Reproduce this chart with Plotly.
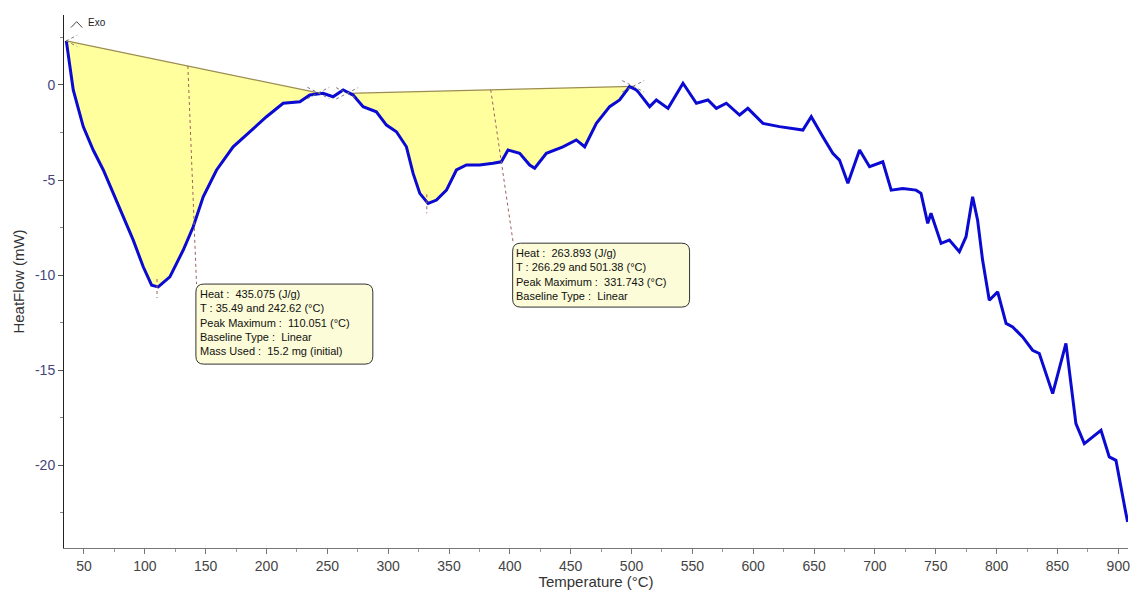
import plotly.graph_objects as go

# DSC heat-flow trace (temperature in °C, heat flow in mW)
temperature = [
    35.49, 41.2, 49.4, 57.6, 65.9, 74.1, 82.3, 90.5, 98.7, 105.6, 111.0, 120.6,
    131.6, 139.8, 148.0, 159.0, 172.6, 186.3, 200.0, 213.7, 227.4, 235.6, 246.5,
    254.7, 263.0, 271.2, 279.4, 290.3, 298.6, 306.8, 315.0, 320.5, 326.0, 332.8,
    339.7, 347.9, 356.1, 364.3, 375.2, 386.2, 393.0, 398.5, 408.1, 416.3, 420.4,
    430.0, 443.6, 454.6, 461.5, 471.1, 482.0, 490.2, 498.4, 503.9, 505.3, 514.9,
    520.4, 530.0, 542.3, 553.3, 562.8, 569.7, 577.9, 588.8, 595.6, 608.0, 621.6,
    640.8, 647.7, 657.2, 665.4, 670.9, 677.8, 687.4, 695.6, 706.5, 713.4, 722.9,
    733.8, 737.9, 743.4, 746.1, 754.4, 761.2, 769.4, 774.9, 780.3, 784.4, 788.5,
    794.0, 800.9, 807.8, 813.2, 821.4, 829.6, 835.1, 846.1, 857.0, 865.2, 872.1,
    878.9, 885.8, 892.6, 898.1, 906.3, 907.7,
]
heat_flow = [
    2.32, -0.26, -2.19, -3.42, -4.47, -5.70, -6.93, -8.16, -9.56, -10.53, -10.62,
    -10.09, -8.68, -7.46, -5.88, -4.47, -3.25, -2.46, -1.67, -0.96, -0.88, -0.53,
    -0.44, -0.62, -0.26, -0.53, -1.14, -1.41, -2.11, -2.46, -3.25, -4.65, -5.70,
    -6.23, -6.05, -5.53, -4.47, -4.21, -4.21, -4.12, -4.04, -3.42, -3.59, -4.21,
    -4.38, -3.59, -3.25, -2.89, -3.25, -2.02, -1.14, -0.79, -0.09, -0.26, -0.35,
    -1.14, -0.79, -1.23, 0.09, -0.96, -0.79, -1.23, -0.96, -1.58, -1.23, -2.02,
    -2.19, -2.37, -1.67, -2.72, -3.59, -3.95, -5.17, -3.42, -4.30, -4.04, -5.53,
    -5.44, -5.53, -5.70, -7.28, -6.75, -8.33, -8.16, -8.77, -7.98, -5.88, -7.11,
    -9.21, -11.32, -10.88, -12.54, -12.72, -13.25, -13.95, -14.12, -16.23, -13.59,
    -17.81, -18.86, -18.51, -18.16, -19.56, -19.74, -22.54, -22.98,
]

# Integrated peaks: linear baseline limits (T, heat flow) and peak maxima
peak1_limits = [(35.49, 2.32), (242.62, -0.42)]
peak2_limits = [(266.29, -0.44), (501.38, -0.07)]
peak1_max = 110.051
peak2_max = 331.743

peak1_text = [
    "Heat :  435.075 (J/g)",
    "T : 35.49 and 242.62 (°C)",
    "Peak Maximum :  110.051 (°C)",
    "Baseline Type :  Linear",
    "Mass Used :  15.2 mg (initial)",
]
peak2_text = [
    "Heat :  263.893 (J/g)",
    "T : 266.29 and 501.38 (°C)",
    "Peak Maximum :  331.743 (°C)",
    "Baseline Type :  Linear",
]

x_ticks = list(range(50, 901, 50))
y_ticks = [0, -5, -10, -15, -20]

FONT = "Liberation Sans, Arial, sans-serif"
CURVE = "#0a0ad2"
FILL = "#ffff9e"
BASE = "#9c8c52"
DOT = "#a06060"

fig = go.Figure()


def peak_polygon(limits):
    (t0, v0), (t1, v1) = limits
    inner = [(t, v) for t, v in zip(temperature, heat_flow) if t0 < t < t1]
    xs = [t0, t1] + [p[0] for p in reversed(inner)] + [t0]
    ys = [v0, v1] + [p[1] for p in reversed(inner)] + [v0]
    return xs, ys


for limits in (peak1_limits, peak2_limits):
    px_, py_ = peak_polygon(limits)
    fig.add_trace(go.Scatter(x=px_, y=py_, mode="lines", fill="toself",
                             fillcolor=FILL, line=dict(width=0),
                             hoverinfo="skip", showlegend=False))
    fig.add_trace(go.Scatter(x=[limits[0][0], limits[1][0]],
                             y=[limits[0][1], limits[1][1]], mode="lines",
                             line=dict(color=BASE, width=1.2),
                             hoverinfo="skip", showlegend=False))

fig.add_trace(go.Scatter(x=temperature, y=heat_flow, mode="lines",
                         line=dict(color=CURVE, width=3),
                         showlegend=False, name="HeatFlow"))

shapes = []


def interp(t):
    for i in range(len(temperature) - 1):
        if temperature[i] <= t <= temperature[i + 1]:
            f = (t - temperature[i]) / (temperature[i + 1] - temperature[i])
            return heat_flow[i] + f * (heat_flow[i + 1] - heat_flow[i])
    return heat_flow[-1]


def base_at(limits, t):
    (t0, v0), (t1, v1) = limits
    return v0 + (t - t0) / (t1 - t0) * (v1 - v0)


# limit crosses at baseline ends
for limits in (peak1_limits, peak2_limits):
    for t, v in limits:
        for s in (1, -1):
            shapes.append(dict(type="line", xref="x", yref="y",
                               x0=t - 9, x1=t + 9, y0=v - 0.3 * s, y1=v + 0.3 * s,
                               line=dict(color="#777777", width=1, dash="dot")))

# peak-maximum ticks
for t in (peak1_max, peak2_max):
    v = interp(t)
    shapes.append(dict(type="line", xref="x", yref="y", x0=t, x1=t,
                       y0=v + 0.4, y1=v - 0.6,
                       line=dict(color=DOT, width=1, dash="dot")))


def rounded_box(x0, x1, y_top, y_bot, rx, ry):
    return (f"M {x0 + rx},{y_top} L {x1 - rx},{y_top} Q {x1},{y_top} {x1},{y_top - ry} "
            f"L {x1},{y_bot + ry} Q {x1},{y_bot} {x1 - rx},{y_bot} "
            f"L {x0 + rx},{y_bot} Q {x0},{y_bot} {x0},{y_bot + ry} "
            f"L {x0},{y_top - ry} Q {x0},{y_top} {x0 + rx},{y_top} Z")


boxes = [
    (peak1_limits, 135.4, (142.0, 287.4, -10.47, -14.68), peak1_text),
    (peak2_limits, 384.3, (402.3, 547.7, -8.32, -11.68), peak2_text),
]
annotations = []
for limits, t_conn, (bx0, bx1, by0, by1), lines in boxes:
    shapes.append(dict(type="line", xref="x", yref="y", x0=t_conn,
                       y0=base_at(limits, t_conn), x1=bx0 + 0.5, y1=by0,
                       line=dict(color=DOT, width=1, dash="dot")))
    shapes.append(dict(type="path", xref="x", yref="y",
                       path=rounded_box(bx0, bx1, by0, by1, 6.5, 0.42),
                       fillcolor="#fcfcd8", line=dict(color="#333333", width=1)))
    annotations.append(dict(x=bx0 + 1.5, y=by0 - 0.12, xref="x", yref="y",
                            xanchor="left", yanchor="top", align="left",
                            showarrow=False, text="<br>".join(lines),
                            font=dict(family=FONT, size=11, color="#111111")))

# Exo direction marker
shapes.append(dict(type="path", xref="x", yref="y",
                   path="M 39.3,3.02 L 44.0,3.33 L 48.6,3.02",
                   line=dict(color="#444444", width=1)))
annotations.append(dict(x=51.5, y=3.28, xref="x", yref="y", xanchor="left",
                        yanchor="middle", showarrow=False, text="Exo",
                        font=dict(family=FONT, size=10, color="#222222")))

fig.update_layout(
    width=1133, height=590,
    margin=dict(l=64, r=5, t=15, b=42),
    paper_bgcolor="white", plot_bgcolor="white",
    shapes=shapes, annotations=annotations,
    font=dict(family=FONT),
    xaxis=dict(
        range=[33.6, 908], tickvals=x_ticks, ticktext=[str(v) for v in x_ticks],
        showgrid=False, zeroline=False, showline=True, linecolor="#777777",
        linewidth=1, ticks="outside", ticklen=5, tickcolor="#777777",
        minor=dict(dtick=25, tick0=0, ticks="outside", ticklen=3, tickcolor="#999999"),
        tickfont=dict(size=14, color="#444444", family=FONT),
        title=dict(text="Temperature (°C)", standoff=1,
                   font=dict(size=15, color="#333333", family=FONT)),
        automargin=False,
    ),
    yaxis=dict(
        range=[-24.35, 3.68], tickvals=y_ticks, ticktext=[str(v) for v in y_ticks],
        showgrid=False, zeroline=False, showline=True, linecolor="#222222",
        linewidth=1, ticks="outside", ticklen=5, tickcolor="#555555",
        minor=dict(dtick=2.5, tick0=0, ticks="outside", ticklen=3, tickcolor="#888888"),
        tickfont=dict(size=14, color="#46467a", family=FONT),
        title=dict(text="HeatFlow (mW)", standoff=6,
                   font=dict(size=15, color="#333333", family=FONT)),
        automargin=False,
    ),
)

fig.write_html("out.html")
